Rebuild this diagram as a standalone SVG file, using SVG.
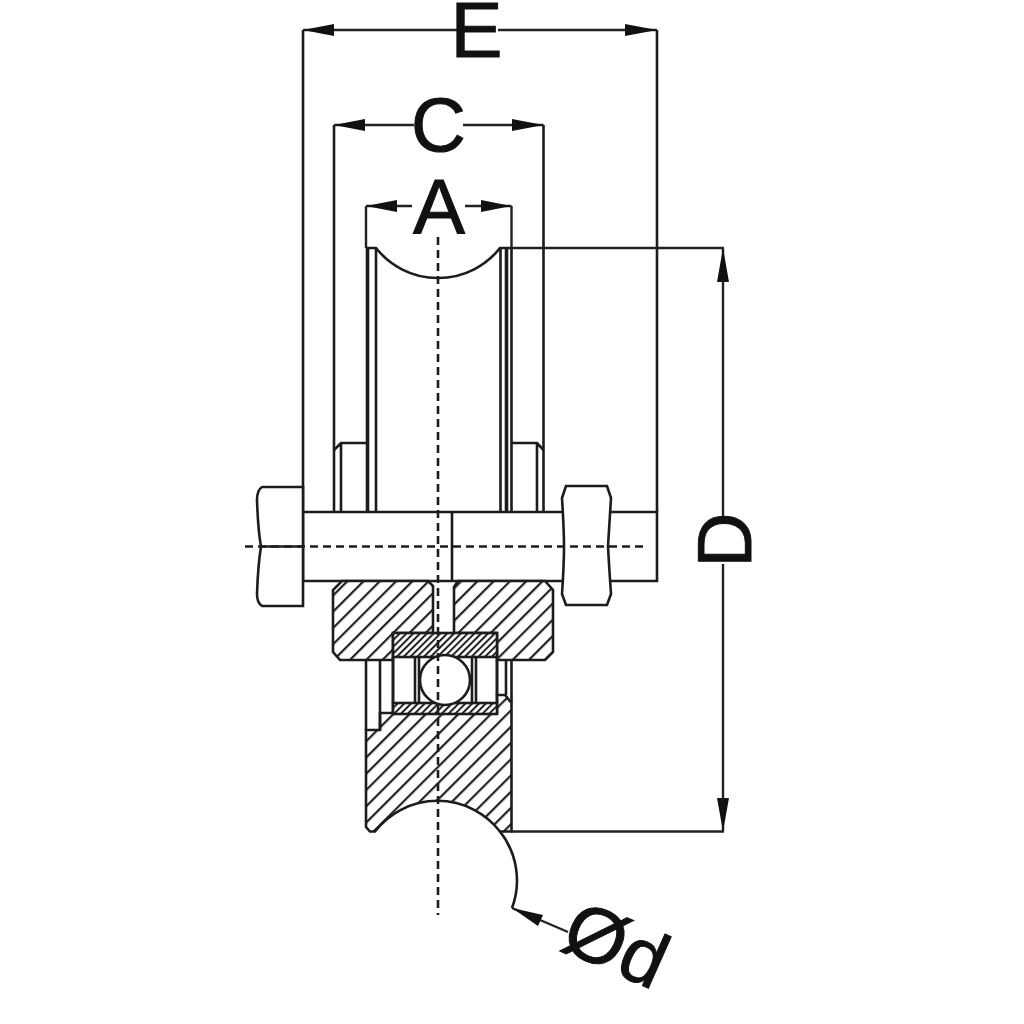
<svg xmlns="http://www.w3.org/2000/svg" width="1024" height="1024" viewBox="0 0 1024 1024">
<style>
.l{fill:none;stroke:#1c1c1c;stroke-width:2.6}
.w{fill:#fff;stroke:#1c1c1c;stroke-width:2.6}
.hh{fill:url(#h);stroke:#1c1c1c;stroke-width:2.6}
.ff{fill:url(#f);stroke:#1c1c1c;stroke-width:2.6}
.t{fill:none;stroke:#1c1c1c;stroke-width:3.6}
.c{fill:none;stroke:#1c1c1c;stroke-width:2.6;stroke-dasharray:8 5}
.d{fill:none;stroke:#222;stroke-width:2.4}
.a{fill:#111}
text{font-family:"Liberation Sans",Arial,sans-serif;fill:#111;stroke:#111;stroke-width:1}
</style>
<defs>
<pattern id="h" width="11.500" height="11.500" patternUnits="userSpaceOnUse" patternTransform="rotate(45)"><rect width="11.500" height="11.500" fill="#fff"/><rect x="0" y="0" width="2.200" height="11.500" fill="#222"/></pattern>
<pattern id="f" width="4.800" height="4.800" patternUnits="userSpaceOnUse" patternTransform="rotate(45)"><rect width="4.800" height="4.800" fill="#fff"/><rect x="0" y="0" width="2" height="4.800" fill="#222"/></pattern>
</defs>
<rect width="1024" height="1024" fill="#fff"/>
<g id="wheel">
<path class="l" d="M366,248H376A79,79 0 0 0 500,248H512"/>
<path class="t" d="M367.500,248V512"/>
<path class="l" d="M376,248V512M500.500,248V512M511.500,248V512"/>
<path class="t" d="M506.500,248V512"/>
</g>
<g id="fork">
<path class="l" d="M303,512V30M334,512V125M543.500,512V125M657,512V30"/>
<path class="l" d="M334,450L341,443H366M511,443H537L543.500,450M341,443V512M537,443V512"/>
</g>
<g id="bolt">
<path class="l" d="M303,512H657V581H303ZM452,512V581"/>
<path class="w" d="M303,487H262Q257,490 257,500Q258,530 261,546.500Q258,565 257,594Q257,603 262,606H303ZM260,546.500H303"/>
<path class="w" d="M566,486H607L611,498Q609,530 608,546.500Q609,565 611,594L607,605H566L562,594Q564,565 564,546.500Q564,530 562,498Z"/>
</g>
<g id="section">
<path class="hh" d="M342,581H428L433,586V633H393V660H340L333,652V590Z"/>
<path class="hh" d="M458,581L454,587V633H497V660H545L553,652V590L545,581Z"/>
<path class="hh" d="M366,730H380V713H497V695L505,695L511.500,703V831.500H500A79,79 0 0 0 375,831.500L370,831.500L366,827Z"/>
<path class="l" d="M366,660V730M380,660V730M393,660V713M506,660V695M511.500,660V703M497,660V695"/>
<rect class="ff" x="393" y="633" width="104" height="24"/>
<rect class="ff" x="393" y="703" width="104" height="11"/>
<path class="l" d="M393,657V703M415,657V703M419,657V703M472,657V703M476,657V703M497,657V703"/>
<circle class="w" cx="445" cy="680" r="25"/>
</g>
<g id="connectors">
<path class="c" d="M438,237V915M245,546.500H645"/>
<path class="d" d="M303,30H457M498,30H657M334,125H414M463,125H543.500M366,206H412M465,206H511.500M511,248H724M511,831.500H724M723,248V517M723,564V831.500"/>
<path class="d" d="M366,206V248M511.500,206V248"/>
<path class="a" d="M303,30L334,24V36ZM657,30L625,24V36ZM334,125L365,119V131ZM543.500,125L512,119V131ZM366,206L397,200V212ZM511.500,206L481,200V212ZM723,248L717,282H729ZM723,831.500L717,798H729Z"/>
<path class="l" d="M500,831.500A79,79 0 0 1 512,908"/>
<path class="d" d="M512,908L568,932"/>
<path class="a" d="M512,908L543,915L538,926Z"/>
</g>
<g id="labels">
<text x="476.500" y="57" font-size="78" text-anchor="middle">E</text>
<text x="438.500" y="151" font-size="76" text-anchor="middle">C</text>
<text x="439" y="234" font-size="78" text-anchor="middle">A</text>
<text transform="translate(751,540) rotate(-90)" font-size="76" text-anchor="middle">D</text>
<text transform="translate(558,948) rotate(24)" font-size="78">Ød</text>
</g>
</svg>
